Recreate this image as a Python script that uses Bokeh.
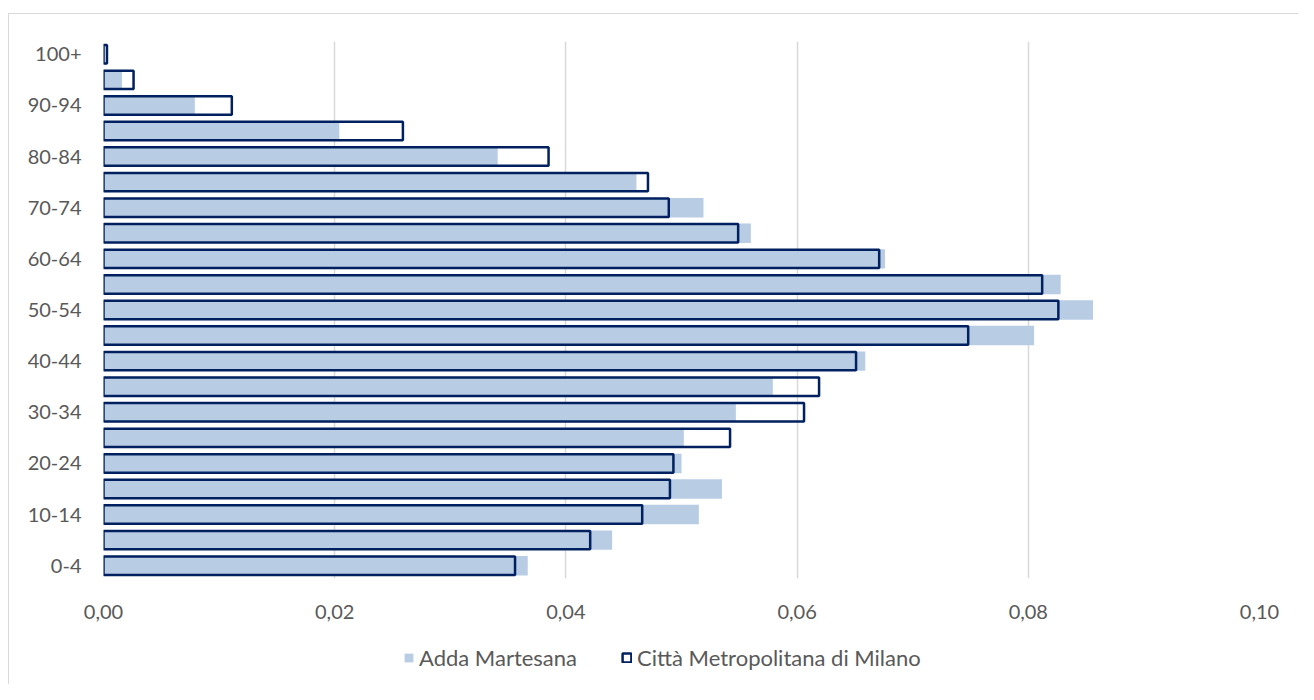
from bokeh.plotting import figure
from bokeh.layouts import column
from bokeh.models import Legend, LegendItem, FixedTicker, ColumnDataSource
from bokeh.embed import file_html
from bokeh.resources import INLINE

age_groups = ["0-4", "5-9", "10-14", "15-19", "20-24", "25-29", "30-34", "35-39",
              "40-44", "45-49", "50-54", "55-59", "60-64", "65-69", "70-74", "75-79",
              "80-84", "85-89", "90-94", "95-99", "100+"]
adda_martesana = [0.0367, 0.0440, 0.0515, 0.0535, 0.0500, 0.0502, 0.0547, 0.0579,
                  0.0659, 0.0805, 0.0856, 0.0828, 0.0676, 0.0560, 0.0519, 0.0461,
                  0.0341, 0.0204, 0.0079, 0.0016, 0.0001]
citta_metropolitana = [0.0356, 0.0421, 0.0466, 0.0490, 0.0493, 0.0542, 0.0606, 0.0619,
                       0.0651, 0.0748, 0.0826, 0.0812, 0.0671, 0.0549, 0.0489, 0.0471,
                       0.0385, 0.0259, 0.0111, 0.0026, 0.0003]
series_names = ["Adda Martesana", "Città Metropolitana di Milano"]
x_ticks = [0.0, 0.02, 0.04, 0.06, 0.08, 0.10]
x_tick_labels = ["0,00", "0,02", "0,04", "0,06", "0,08", "0,10"]

FONT = "Lato"
TXT = "#595959"
FILL = "#b8cce4"
NAVY = "#002060"

pos = list(range(len(age_groups)))
src = ColumnDataSource(dict(pos=pos, adda=adda_martesana, milano=citta_metropolitana))

W = 1298
p = figure(width=W, height=630, y_range=(-0.5, len(age_groups) - 0.5), x_range=(0, 0.10),
           output_backend="svg", toolbar_location=None,
           min_border_left=103, min_border_right=39, min_border_top=41, min_border_bottom=52)
p.border_fill_color = None
p.outline_line_color = None

r1 = p.hbar(y="pos", right="adda", left=0, height=0.76, source=src,
            fill_color=FILL, line_color=None)
r2 = p.hbar(y="pos", right="milano", left=0, height=0.72, source=src,
            fill_alpha=0, line_color=NAVY, line_width=2.5)

# x axis
p.xaxis.ticker = FixedTicker(ticks=x_ticks)
p.xaxis.major_label_overrides = {t: l for t, l in zip(x_ticks, x_tick_labels)}
p.xaxis.axis_line_color = None
p.xaxis.major_tick_line_color = None
p.xaxis.minor_tick_line_color = None
p.xaxis.major_label_standoff = 20
p.xaxis.major_label_text_font = FONT
p.xaxis.major_label_text_font_size = "20px"
p.xaxis.major_label_text_color = TXT

# y axis: every other age group labelled
shown = [i for i in pos if i % 2 == 0]
p.yaxis.ticker = FixedTicker(ticks=shown)
p.yaxis.major_label_overrides = {i: age_groups[i] for i in shown}
p.yaxis.axis_line_color = None
p.yaxis.major_tick_line_color = None
p.yaxis.minor_tick_line_color = None
p.yaxis.major_label_standoff = 16
p.yaxis.major_label_text_font = FONT
p.yaxis.major_label_text_font_size = "20px"
p.yaxis.major_label_text_color = TXT

p.xgrid.grid_line_color = "#d9d9d9"
p.xgrid.grid_line_width = 1.5
p.xgrid.ticker = FixedTicker(ticks=x_ticks)
p.ygrid.grid_line_color = None

# legend strip
pl = figure(width=W, height=54, x_range=(0, 1), y_range=(0, 1),
            output_backend="svg", toolbar_location=None,
            min_border=0, min_border_left=0, min_border_right=0,
            min_border_top=0, min_border_bottom=0)
pl.axis.visible = False
pl.grid.grid_line_color = None
pl.outline_line_color = None
pl.border_fill_color = None
pl.background_fill_color = None
nodata = ColumnDataSource(dict(y=[float("nan")], right=[float("nan")]))
l1 = pl.hbar(y="y", right="right", left=0, height=0.5, source=nodata,
             fill_color=FILL, line_color=None)
l2 = pl.hbar(y="y", right="right", left=0, height=0.5, source=nodata,
             fill_alpha=0, line_color=NAVY, line_width=2.5)
legend = Legend(items=[LegendItem(label=series_names[0], renderers=[l1]),
                       LegendItem(label=series_names[1], renderers=[l2])],
                orientation="horizontal", location=(300, 13),
                label_text_font=FONT, label_text_font_size="22px", label_text_color=TXT,
                glyph_width=11, glyph_height=11, spacing=44, label_standoff=5,
                border_line_color=None, background_fill_alpha=0, margin=0, padding=0)
pl.add_layout(legend)

layout = column(p, pl, spacing=0)
layout.styles = {
    "background": "linear-gradient(#d9d9d9,#d9d9d9) 8px 13px / 1px 100% no-repeat, "
                  "linear-gradient(#d9d9d9,#d9d9d9) 8px 13px / 100% 1px no-repeat, white"
}

open("out.html", "w").write(file_html(layout, INLINE))
